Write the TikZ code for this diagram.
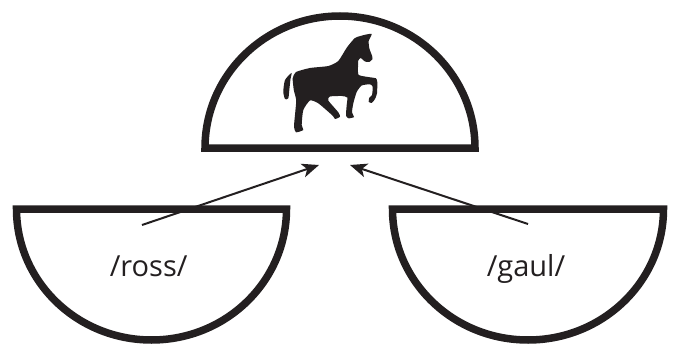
\documentclass[tikz,border=0pt]{standalone}
\usepackage{fontspec}
\setmainfont{Open Sans}
\usetikzlibrary{arrows.meta}
\definecolor{ink}{RGB}{35,31,32}
\tikzset{
  bowl/.style={draw=ink, line width=7.5pt, line join=miter, fill=white},
  pointer/.style={draw=ink, line width=2pt, -{Stealth[length=17pt,width=14pt,inset=4.5pt]}},
  word/.style={font=\fontsize{29}{29}\selectfont, text=ink, anchor=base, inner sep=0pt}
}
\begin{document}
\begin{tikzpicture}[x=1pt,y=-1pt]
\useasboundingbox (0,0) rectangle (677,350);
% top dome
\draw[bowl] (205,148) arc[start angle=180,end angle=0,x radius=135pt,y radius=132pt] -- cycle;
% left bowl
\draw[bowl] (16.5,209) arc[start angle=180,end angle=360,x radius=135pt,y radius=131pt] -- cycle;
% right bowl
\draw[bowl] (392.5,209) arc[start angle=180,end angle=360,x radius=135.5pt,y radius=131pt] -- cycle;
% horse
\fill[ink] plot[smooth cycle, tension=0.35] coordinates {
 (371.7,34) (368.7,41) (369.3,48.3) (372,55.7) (372.5,59) (369.3,62) (365,61.5)
 (360.7,58) (358.3,60.5) (358,67) (358.7,75) (370,77.3) (376,78.3) (377.3,82.3)
 (377,93.3) (375,99) (371.7,103) (368.7,101.7) (369.3,97.7) (372,95) (372.7,86.7)
 (370,84.3) (361.7,85.5) (356.7,92) (353.3,103.3) (352,112.3) (354,117) (348.7,118.3)
 (346,115.7) (346.7,105) (347.3,97.5) (341.7,96) (330,96.5) (328.3,100.5) (338.3,112.3)
 (340,116.7) (335,119) (332.7,115.7) (318.3,103.3) (310,100.5) (303.3,110) (301.7,125)
 (303.3,130) (296,132.3) (294,126.7) (295.3,111.7) (296.2,100) (293.8,90) (292.7,78.3)
 (296,72) (310,68) (328.3,66) (338.3,61) (346.7,47.8) (355,38) (365,34.8)
};
\fill[ink] plot[smooth cycle, tension=0.4] coordinates {
 (291.5,73) (285,80) (283.3,91.7) (285,99) (288.3,98.3) (289.3,90) (290.5,79)
};
% labels
\node[word] (ross) at (148.7,276) {/ross/};
\node[word] (gaul) at (526,276) {/gaul/};
% arrows
\coordinate (rossfrom) at (142,225);
\coordinate (gaulfrom) at (528,224);
\coordinate (lefttip) at (319,165);
\coordinate (righttip) at (350,165);
\draw[pointer] (rossfrom) -- (lefttip);
\draw[pointer] (gaulfrom) -- (righttip);
\end{tikzpicture}
\end{document}
